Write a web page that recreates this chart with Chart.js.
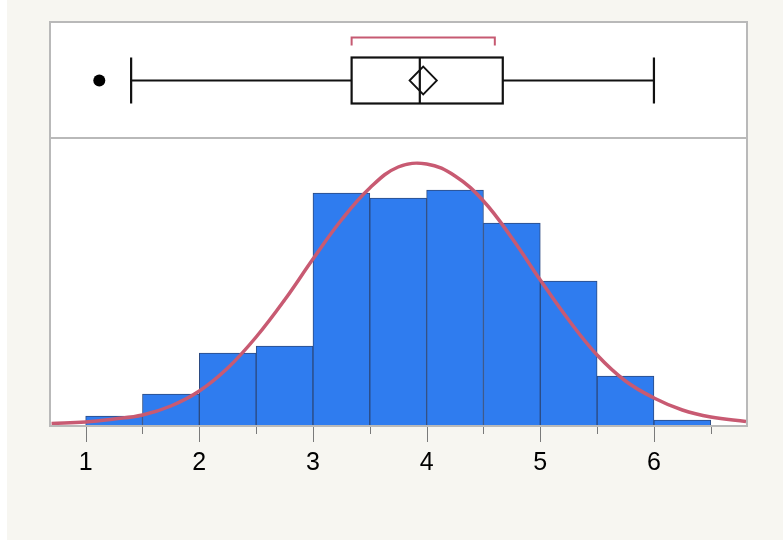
<!DOCTYPE html>
<html>
<head>
<meta charset="utf-8">
<script src="https://cdn.jsdelivr.net/npm/chart.js@4.4.1/dist/chart.umd.min.js"></script>
<style>
    html, body { margin: 0; padding: 0; background: #ffffff; }
    #wrap { width: 783px; height: 540px; position: relative; }
</style>
</head>
<body>
<div id="wrap"><canvas id="myDistChart"></canvas></div>
<script>
// histogram bins (width 0.5) and bar heights
var binStarts = [1, 1.5, 2, 2.5, 3, 3.5, 4, 4.5, 5, 5.5, 6];
var binWidth = 0.5;
var binHeights = [9, 31, 72, 79, 232, 227, 235, 202, 144, 49, 5];

// fitted normal curve
var curveX = [0.7, 1, 1.25, 1.5, 1.75, 2, 2.25, 2.5, 2.75, 3, 3.25, 3.5, 3.75, 4, 4.25, 4.5, 4.75, 5, 5.25, 5.5, 5.75, 6, 6.25, 6.5, 6.81];
var curveY = [1.5, 3, 6, 10, 19, 34, 57, 88, 125, 166, 205, 237, 258, 261, 249, 224, 187, 145, 105, 70, 44, 27, 15, 8, 3.5];

// box plot summary
var boxStats = { min: 1.40, q1: 3.34, median: 3.94, q3: 4.67, max: 6.0 };
var outliers = [1.12];
var meanValue = 3.97;
var meanCI = [3.85, 4.09];
var shortestHalf = [3.34, 4.60];

var tickLabels = [1, 2, 3, 4, 5, 6];
var xRange = [0.695, 6.81];
var histTop = 287;   // top of histogram panel, same units as bar heights
var yTop = 402;

var boxPlotPlugin = {
    id: 'boxPlotPlugin',
    beforeDraw: function(chart) {
        var c = chart.ctx;
        c.save();
        c.fillStyle = '#ffffff';
        c.fillRect(0, 0, chart.width, chart.height);
        c.fillStyle = '#f7f6f1';
        c.fillRect(7, 0, chart.width - 7, chart.height);
        var a = chart.chartArea;
        c.fillStyle = '#ffffff';
        c.fillRect(a.left, a.top, a.right - a.left, a.bottom - a.top);
        c.restore();
    },
    afterDraw: function(chart) {
        var c = chart.ctx;
        var a = chart.chartArea;
        var x = chart.scales.x;
        var y = chart.scales.y;
        c.save();

        // axis ticks: long at the labels, short at the other bin edges
        c.strokeStyle = '#7a7a7a';
        c.lineWidth = 1;
        binStarts.concat([binStarts[binStarts.length - 1] + binWidth]).forEach(function(v) {
            var len = tickLabels.indexOf(v) >= 0 ? 17 : 9;
            var tx = Math.round(x.getPixelForValue(v)) + 0.5;
            c.beginPath();
            c.moveTo(tx, a.bottom);
            c.lineTo(tx, a.bottom + len);
            c.stroke();
        });

        // frame and panel divider
        var divY = Math.round(y.getPixelForValue(histTop));
        c.strokeStyle = '#b9b9b9';
        c.lineWidth = 2;
        c.strokeRect(a.left - 1, a.top - 1, a.right - a.left + 2, a.bottom - a.top + 2);
        c.beginPath();
        c.moveTo(a.left, divY);
        c.lineTo(a.right, divY);
        c.stroke();

        // box plot in the upper panel
        var cy = (a.top + divY) / 2;
        var h = 23;
        var px = function(v) { return x.getPixelForValue(v); };
        c.strokeStyle = '#111111';
        c.lineWidth = 2.2;
        c.beginPath();
        c.moveTo(px(boxStats.min), cy);
        c.lineTo(px(boxStats.q1), cy);
        c.moveTo(px(boxStats.q3), cy);
        c.lineTo(px(boxStats.max), cy);
        c.moveTo(px(boxStats.min), cy - h);
        c.lineTo(px(boxStats.min), cy + h);
        c.moveTo(px(boxStats.max), cy - h);
        c.lineTo(px(boxStats.max), cy + h);
        c.stroke();
        c.strokeRect(px(boxStats.q1), cy - h, px(boxStats.q3) - px(boxStats.q1), 2 * h);
        c.beginPath();
        c.moveTo(px(boxStats.median), cy - h);
        c.lineTo(px(boxStats.median), cy + h);
        c.stroke();

        // mean diamond
        c.lineWidth = 1.8;
        c.beginPath();
        c.moveTo(px(meanCI[0]), cy);
        c.lineTo(px(meanValue), cy - 14);
        c.lineTo(px(meanCI[1]), cy);
        c.lineTo(px(meanValue), cy + 14);
        c.closePath();
        c.stroke();

        // outliers
        c.fillStyle = '#000000';
        outliers.forEach(function(v) {
            c.beginPath();
            c.arc(px(v), cy, 6, 0, Math.PI * 2);
            c.fill();
        });

        // shortest half bracket
        c.strokeStyle = '#c65a72';
        c.lineWidth = 2;
        c.beginPath();
        c.moveTo(px(shortestHalf[0]), cy - 35);
        c.lineTo(px(shortestHalf[0]), cy - 43);
        c.lineTo(px(shortestHalf[1]), cy - 43);
        c.lineTo(px(shortestHalf[1]), cy - 35);
        c.stroke();
        c.restore();
    }
};

function populateDistChart(chartId) {
    var barData = binStarts.map(function(s, i) {
        return { x: s + binWidth / 2, y: binHeights[i] };
    });
    var curveData = curveX.map(function(v, i) {
        return { x: v, y: curveY[i] };
    });
    var ctx = document.getElementById(chartId).getContext('2d');
    var myChart = new Chart(ctx, {
        type: 'bar',
        data: {
            datasets: [
                {
                    type: 'line',
                    label: 'Normal',
                    data: curveData,
                    borderColor: '#c85a72',
                    borderWidth: 3.5,
                    pointRadius: 0,
                    fill: false,
                    tension: 0.4,
                    order: 0
                },
                {
                    label: 'Count',
                    data: barData,
                    backgroundColor: '#2f7cef',
                    borderColor: '#2c4a80',
                    borderWidth: 1,
                    barPercentage: 1,
                    categoryPercentage: 1,
                    order: 1
                }
            ]
        },
        options: {
            responsive: true,
            maintainAspectRatio: false,
            animation: false,
            layout: {
                padding: { left: 51, right: 37, top: 23, bottom: 0 }
            },
            plugins: {
                legend: { display: false },
                tooltip: { enabled: false }
            },
            scales: {
                x: {
                    type: 'linear',
                    min: xRange[0],
                    max: xRange[1],
                    offset: false,
                    afterBuildTicks: function(scale) {
                        scale.ticks = tickLabels.map(function(v) { return { value: v }; });
                    },
                    afterFit: function(scale) {
                        scale.height = 115;
                    },
                    grid: { display: false },
                    border: { display: false },
                    ticks: {
                        color: '#000000',
                        padding: 15,
                        maxRotation: 0,
                        font: { family: '"Liberation Sans", Arial, sans-serif', size: 25 }
                    }
                },
                y: {
                    display: false,
                    min: 0,
                    max: yTop
                }
            }
        },
        plugins: [boxPlotPlugin]
    });
}

populateDistChart('myDistChart');
</script>
</body>
</html>
